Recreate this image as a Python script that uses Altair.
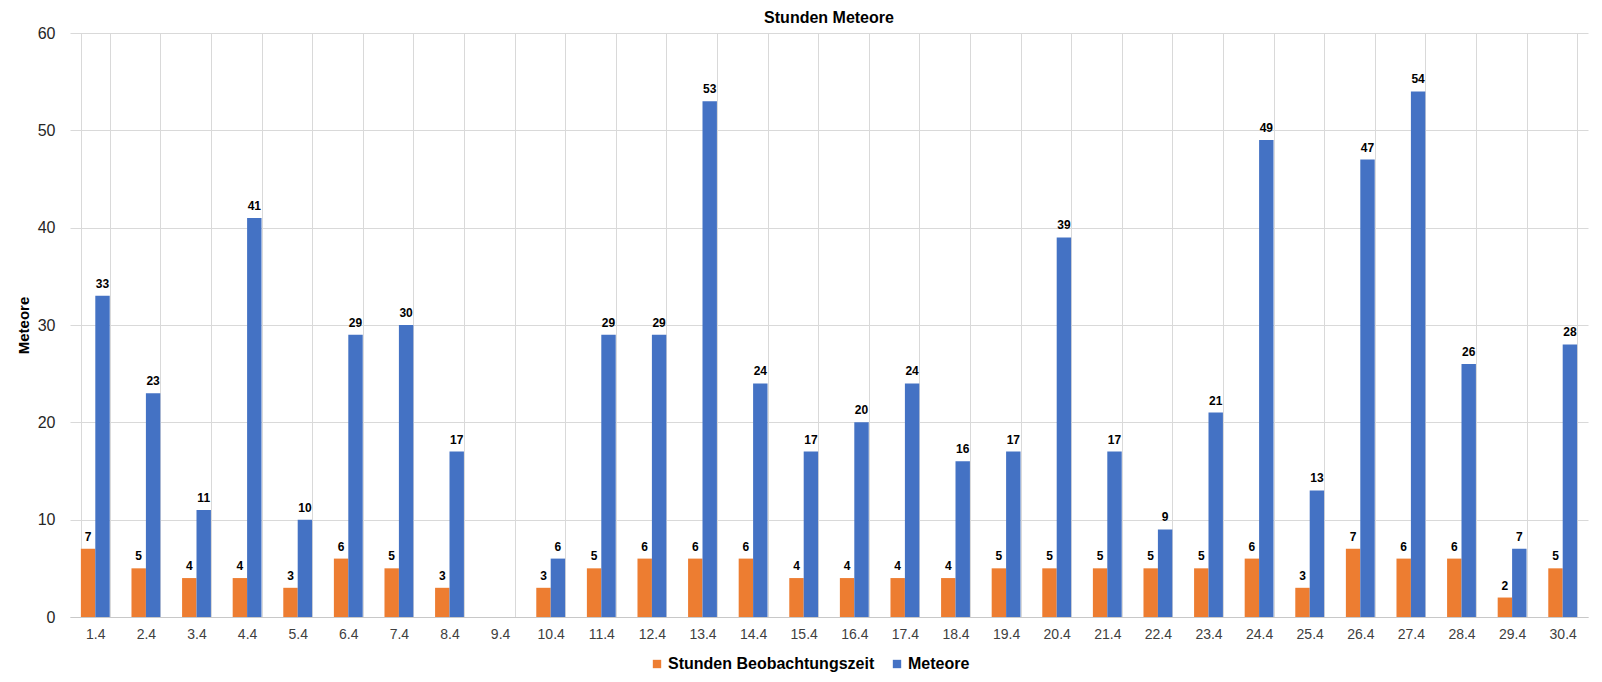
import altair as alt
import pandas as pd

dates = ["1.4", "2.4", "3.4", "4.4", "5.4", "6.4", "7.4", "8.4", "9.4", "10.4",
         "11.4", "12.4", "13.4", "14.4", "15.4", "16.4", "17.4", "18.4", "19.4", "20.4",
         "21.4", "22.4", "23.4", "24.4", "25.4", "26.4", "27.4", "28.4", "29.4", "30.4"]
stunden = [7, 5, 4, 4, 3, 6, 5, 3, None, 3, 5, 6, 6, 6, 4, 4, 4, 4, 5, 5,
           5, 5, 5, 6, 3, 7, 6, 6, 2, 5]
meteore = [33, 23, 11, 41, 10, 29, 30, 17, None, 6, 29, 29, 53, 24, 17, 20, 24, 16, 17, 39,
           17, 9, 21, 49, 13, 47, 54, 26, 7, 28]
series = ["Stunden Beobachtungszeit", "Meteore"]
colors = ["#ED7D31", "#4472C4"]
y_ticks = [0, 10, 20, 30, 40, 50, 60]

rows = []
for d, s, m in zip(dates, stunden, meteore):
    rows.append({"Datum": d, "Serie": series[0], "Wert": s})
    rows.append({"Datum": d, "Serie": series[1], "Wert": m})
df = pd.DataFrame(rows)

FONT = "Liberation Sans"

base = alt.Chart(df).transform_filter("isValid(datum.Wert)").encode(
    x=alt.X("Datum:N", sort=dates,
            scale=alt.Scale(domain=dates, paddingInner=0.43, paddingOuter=0.215),
            axis=alt.Axis(title=None, labelAngle=0, ticks=False, tickBand="extent",
                          grid=True, gridColor="#d9d9d9", domainColor="#c8c8c8",
                          labelFontSize=14, labelColor="#404040", labelPadding=10,
                          labelFont=FONT)),
    xOffset=alt.XOffset("Serie:N", sort=series,
                        scale=alt.Scale(domain=series, paddingInner=0, paddingOuter=0)),
    y=alt.Y("Wert:Q", scale=alt.Scale(domain=[0, 60]),
            axis=alt.Axis(values=y_ticks, title="Meteore", titleFontSize=15,
                          titleFontWeight="bold", titleFont=FONT, titleColor="#000000",
                          labelFontSize=16, labelColor="#262626", labelFont=FONT,
                          ticks=False, domain=False, labelPadding=15, titlePadding=6,
                          gridColor="#d9d9d9")),
)

bars = base.mark_bar().encode(
    color=alt.Color("Serie:N", sort=series,
                    scale=alt.Scale(domain=series, range=colors),
                    legend=alt.Legend(title=None, orient="none", direction="horizontal",
                                      legendX=579, legendY=623, symbolType="square",
                                      symbolSize=70, symbolStrokeWidth=0,
                                      labelFontSize=16, labelFontWeight="bold",
                                      labelFont=FONT, labelColor="#000000", labelLimit=0,
                                      columnPadding=14, labelOffset=3))
)

labels = base.mark_text(dy=-8, baseline="alphabetic", fontSize=12, fontWeight="bold",
                        font=FONT, color="#000000").encode(text=alt.Text("Wert:Q"))

chart = alt.layer(bars, labels).properties(
    width=1518, height=584,
    autosize=alt.AutoSizeParams(type="none"),
    padding={"left": 62, "top": 25, "right": 6, "bottom": 57},
    title=alt.TitleParams("Stunden Meteore", fontSize=16, fontWeight="bold", font=FONT,
                          color="#000000", anchor="middle", offset=-1),
).configure_view(stroke=None)

chart.save("out.html", embed_options={"renderer": "svg", "actions": False})
